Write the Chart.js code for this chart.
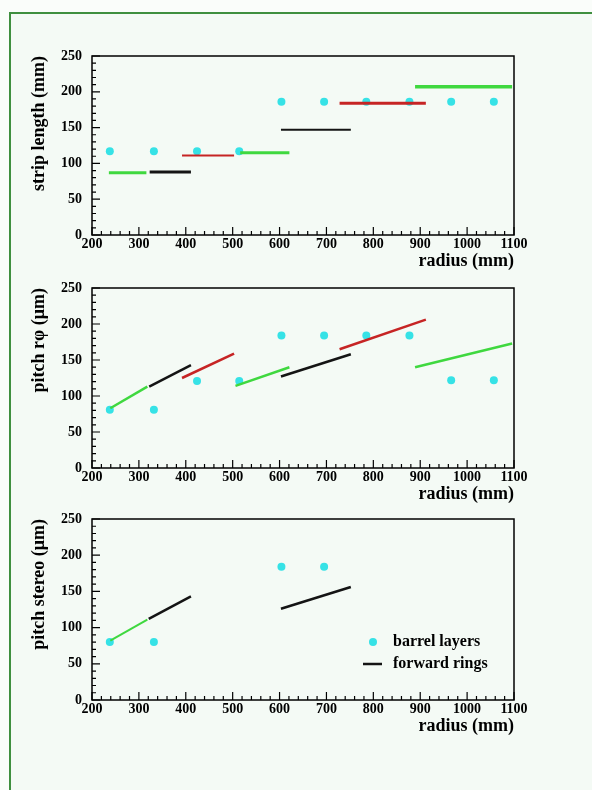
<!DOCTYPE html>
<html>
<head>
<meta charset="utf-8">
<script src="https://cdn.jsdelivr.net/npm/chart.js@4.4.1/dist/chart.umd.min.js"></script>
<style>
html,body{margin:0;padding:0;width:592px;height:790px;overflow:hidden;background:#fafdfa;}
#frame{position:absolute;left:9px;top:12px;width:600px;height:800px;border-left:2px solid #3f8f3f;border-top:2px solid #3f8f3f;background:#f4faf5;}
canvas{position:absolute;left:0;}
</style>
</head>
<body>
<div id="frame"></div>
<canvas id="c1" width="592" height="236" style="top:36px"></canvas>
<canvas id="c2" width="592" height="237" style="top:268px"></canvas>
<canvas id="c3" width="592" height="238" style="top:499px"></canvas>
<script>
// ---------------- data ----------------
const radiusTickLabels = [200, 300, 400, 500, 600, 700, 800, 900, 1000, 1100];
const valueTickLabels = [0, 50, 100, 150, 200, 250];

// barrel layers
const barrelRadius = [238, 332, 424, 514, 604, 695, 785, 877, 966, 1057];
const barrelStripLength = [117, 117, 117, 117, 186, 186, 186, 186, 186, 186];
const barrelPitchRphi = [81, 81, 121, 121, 184, 184, 184, 184, 122, 122];
const stereoBarrelRadius = [238, 332, 604, 695];
const stereoBarrelPitch = [80, 80, 184, 184];

// forward rings (segments)
const ringGroup = ['green', 'black', 'red', 'green', 'black', 'red', 'green'];
const ringStripRStart = [236, 323, 392, 516, 603, 728, 889];
const ringStripREnd = [316, 411, 503, 621, 752, 912, 1096];
const ringStripLength = [87, 88, 111, 115, 147, 184, 207];

const ringRphiRStart = [239, 322, 392, 506, 603, 728, 889];
const ringRphiREnd = [318, 411, 503, 621, 752, 912, 1096];
const ringRphiPitchStart = [83, 113, 125, 114, 127, 165, 140];
const ringRphiPitchEnd = [113, 143, 159, 140, 158, 206, 173];

const stereoRingGroup = ['green', 'black', 'black'];
const ringStereoRStart = [239, 321, 603];
const ringStereoREnd = [318, 411, 752];
const ringStereoPitchStart = [82, 112, 126];
const ringStereoPitchEnd = [111, 143, 156];

const legendLabels = ['barrel layers', 'forward rings'];

// ---------------- styles ----------------
const COLORS = {green: '#3fd83f', black: '#141414', red: '#c62424', cyan: '#36e2e6'};
const widths1 = [3, 3, 2, 3, 1.8, 3, 3.5];
const widths2 = [2.5, 2.5, 2.5, 2.5, 2.5, 2.5, 2.5];
const widths3 = [2, 2.5, 2.5];
const FONT = 'Liberation Serif, Times New Roman, serif';

const rootFrame = {
  id: 'rootFrame',
  beforeDatasetsDraw(chart) {
    const {ctx, chartArea: a, scales: {x, y}} = chart;
    ctx.save();
    ctx.strokeStyle = '#000';
    ctx.lineWidth = 1.5;
    ctx.strokeRect(a.left, a.top, a.right - a.left, a.bottom - a.top);
    ctx.lineWidth = 1.2;
    ctx.beginPath();
    for (let v = x.min; v <= x.max + 1e-6; v += 20) {
      const px = x.getPixelForValue(v);
      const len = (Math.round(v) % 100 === 0) ? 8 : 4;
      ctx.moveTo(px, a.bottom); ctx.lineTo(px, a.bottom - len);
    }
    for (let v = y.min; v <= y.max + 1e-6; v += 10) {
      const py = y.getPixelForValue(v);
      const len = (Math.round(v) % 50 === 0) ? 8 : 4;
      ctx.moveTo(a.left, py); ctx.lineTo(a.left + len, py);
    }
    ctx.stroke();
    ctx.restore();
  }
};

const legendPlugin = {
  id: 'rootLegend',
  afterDraw(chart) {
    const {ctx, chartArea: a} = chart;
    ctx.save();
    ctx.fillStyle = COLORS.cyan;
    ctx.beginPath();
    ctx.arc(a.right - 141, a.bottom - 58, 4, 0, Math.PI * 2);
    ctx.fill();
    ctx.strokeStyle = COLORS.black;
    ctx.lineWidth = 2.5;
    ctx.beginPath();
    ctx.moveTo(a.right - 151, a.bottom - 36);
    ctx.lineTo(a.right - 132, a.bottom - 36);
    ctx.stroke();
    ctx.fillStyle = '#000';
    ctx.font = 'bold 16px ' + FONT;
    ctx.textBaseline = 'middle';
    ctx.textAlign = 'left';
    ctx.fillText(legendLabels[0], a.right - 121, a.bottom - 58);
    ctx.fillText(legendLabels[1], a.right - 121, a.bottom - 36);
    ctx.restore();
  }
};

function makePanel(id, yTitle, bR, bV, rStart, rEnd, vStart, vEnd, groups, widths, extraPlugins) {
  const datasets = [];
  groups.forEach((g, i) => {
    datasets.push({
      data: [{x: rStart[i], y: vStart[i]}, {x: rEnd[i], y: vEnd[i]}],
      showLine: true,
      borderColor: COLORS[g],
      borderWidth: widths[i],
      pointRadius: 0,
      fill: false
    });
  });
  datasets.push({
    data: bR.map((r, i) => ({x: r, y: bV[i]})),
    showLine: false,
    pointRadius: 4,
    pointBackgroundColor: COLORS.cyan,
    pointBorderWidth: 0,
    backgroundColor: COLORS.cyan
  });
  const tickFont = {family: FONT, weight: 'bold', size: 14};
  const titleFont = {family: FONT, weight: 'bold', size: 18};
  return new Chart(document.getElementById(id), {
    type: 'scatter',
    data: {datasets},
    options: {
      responsive: false,
      animation: false,
      devicePixelRatio: 1,
      layout: {padding: {left: 0, right: 78, top: 20, bottom: 0}},
      plugins: {legend: {display: false}, tooltip: {enabled: false}},
      scales: {
        x: {
          type: 'linear',
          min: radiusTickLabels[0],
          max: radiusTickLabels[radiusTickLabels.length - 1],
          afterFit(s) { s.height = 37; },
          grid: {display: false, drawTicks: false},
          border: {display: false},
          ticks: {stepSize: 100, padding: 1, color: '#000', font: tickFont, maxRotation: 0, autoSkip: false,
                  callback: (v) => String(v)},
          title: {display: true, text: 'radius (mm)', align: 'end', color: '#000', font: titleFont, padding: 0}
        },
        y: {
          type: 'linear',
          min: valueTickLabels[0],
          max: valueTickLabels[valueTickLabels.length - 1],
          afterFit(s) { s.width = 92; },
          grid: {display: false, drawTicks: false},
          border: {display: false},
          ticks: {stepSize: 50, padding: 10, color: '#000', font: tickFont, callback: (v) => String(v)},
          title: {display: true, text: yTitle, align: 'end', color: '#000', font: titleFont, padding: {top: 29, bottom: 0}}
        }
      }
    },
    plugins: [rootFrame].concat(extraPlugins || [])
  });
}

makePanel('c1', 'strip length (mm)', barrelRadius, barrelStripLength,
  ringStripRStart, ringStripREnd, ringStripLength, ringStripLength, ringGroup, widths1);
makePanel('c2', 'pitch rφ (μm)', barrelRadius, barrelPitchRphi,
  ringRphiRStart, ringRphiREnd, ringRphiPitchStart, ringRphiPitchEnd, ringGroup, widths2);
makePanel('c3', 'pitch stereo (μm)', stereoBarrelRadius, stereoBarrelPitch,
  ringStereoRStart, ringStereoREnd, ringStereoPitchStart, ringStereoPitchEnd, stereoRingGroup, widths3, [legendPlugin]);
</script>
</body>
</html>
